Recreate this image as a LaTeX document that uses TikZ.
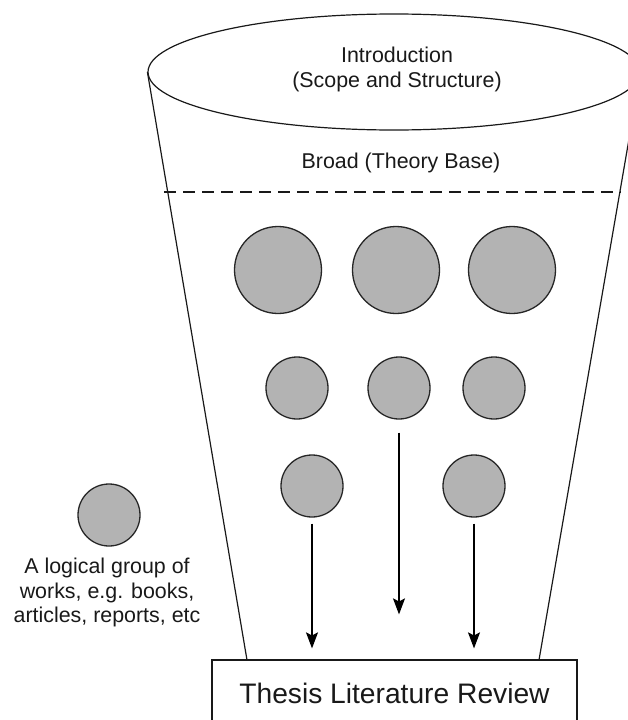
\documentclass[tikz,border=0pt]{standalone}
\usepackage{fontspec}
\setmainfont{Liberation Sans}
\usetikzlibrary{shapes.geometric,arrows.meta}
\definecolor{groupfill}{RGB}{179,179,179}
\definecolor{ink}{RGB}{25,25,25}
\begin{document}
\begin{tikzpicture}[x=1pt,y=-1pt,
  rim/.style={draw=ink,line width=1.2pt},
  workgroup/.style={circle,draw=black!85,line width=1.3pt,fill=groupfill,inner sep=0pt},
  biggroup/.style={workgroup,minimum size=87pt},
  smallgroup/.style={workgroup,minimum size=62pt},
  flow/.style={line width=1.2pt,-{Stealth[length=16pt,width=12pt,inset=3pt]}},
  bodytext/.style={font=\fontsize{21.4}{24.8}\selectfont,text=ink,align=center,inner sep=0pt}]
\clip (0,0) rectangle (628,720);

% funnel mouth and its labels
\node[rim,ellipse,minimum width=492pt,minimum height=116pt,inner sep=0pt] (mouth) at (394,72) {};
\node[bodytext] (intro) at (397,69.5) {Introduction\\(Scope and Structure)};
\node[bodytext] (broad) at (401,163) {Broad (Theory Base)};

% funnel sides and the dashed divider
\coordinate (lowL) at (247,660);
\coordinate (lowR) at (539,660);
\draw[rim] (mouth.west) -- (lowL);
\draw[rim] (mouth.east) -- (lowR);
\coordinate (dashL) at (164,192);
\coordinate (dashR) at (621,192);
\draw[rim,line width=1.3pt,dash pattern=on 12pt off 7pt] (dashL) -- (dashR);

% groups of works
\node[biggroup] (g1a) at (278,270) {};
\node[biggroup] (g1b) at (396,270) {};
\node[biggroup] (g1c) at (512,270) {};
\node[smallgroup] (g2a) at (297,388) {};
\node[smallgroup] (g2b) at (399,388) {};
\node[smallgroup] (g2c) at (494,388) {};
\node[smallgroup] (g3a) at (312,486) {};
\node[smallgroup] (g3c) at (474,486) {};

% outcome box
\node[rim,rectangle,minimum width=365pt,minimum height=66pt,inner sep=0pt,text=ink,
      font=\fontsize{28.2}{32}\selectfont] (review) at (394.5,693) {Thesis Literature Review};

% flows into the review
\draw[flow,shorten <=6pt,shorten >=11pt] (g3a.south) -- (g3a.south |- review.north);
\draw[flow,shorten <=13pt,shorten >=45pt] (g2b.south) -- (g2b.south |- review.north);
\draw[flow,shorten <=6pt,shorten >=11pt] (g3c.south) -- (g3c.south |- review.north);

% key
\node[smallgroup] (key) at (109,515) {};
\node[bodytext] (keytext) at (107,592.5) {A logical group of\\works, e.g. books,\\articles, reports, etc};
\end{tikzpicture}
\end{document}
